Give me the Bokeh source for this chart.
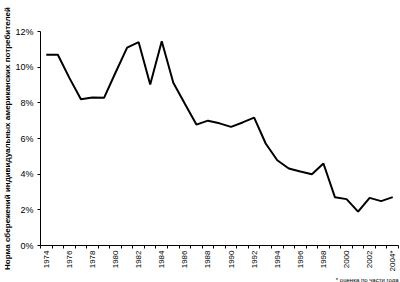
import math
from bokeh.plotting import figure
from bokeh.models import Range1d, FixedTicker, Title, ColumnDataSource
from bokeh.embed import file_html
from bokeh.resources import INLINE

years = list(range(1974, 2005))
savings_rate = [10.7, 10.7, 9.4, 8.2, 8.3, 8.28, 9.7, 11.1, 11.4, 9.03, 11.45, 9.13,
                7.95, 6.78, 7.0, 6.85, 6.65, 6.9, 7.17, 5.72, 4.78, 4.32, 4.15, 4.0,
                4.6, 2.7, 2.6, 1.9, 2.67, 2.49, 2.71]
x_tick_years = list(range(1974, 2005, 2))
x_tick_labels = {y: (str(y) + "*" if y == 2004 else str(y)) for y in x_tick_years}
y_ticks = [0, 2, 4, 6, 8, 10, 12]
y_tick_labels = {v: f"{v}%" for v in y_ticks}
y_title = "Норма сбережений индивидуальных американских потребителей"
footnote = "* оценка по части года"

FONT = "Liberation Sans"

p = figure(width=400, height=282, output_backend="svg", toolbar_location=None,
           x_range=Range1d(1973.5, 2004.5), y_range=Range1d(0, 12),
           min_border_left=33, min_border_right=2, min_border_top=31, min_border_bottom=37)
p.outline_line_color = None
p.xgrid.visible = False
p.ygrid.visible = False
p.background_fill_color = "white"
p.border_fill_color = "white"

src = ColumnDataSource(dict(x=years, y=savings_rate))
p.line("x", "y", source=src, line_color="black", line_width=2)

xa = p.xaxis[0]
xa.ticker = FixedTicker(ticks=x_tick_years,
                        minor_ticks=[y - 0.5 for y in range(1974, 2006)])
xa.major_label_overrides = x_tick_labels
xa.major_label_orientation = math.pi / 2
xa.major_label_text_font = FONT
xa.major_label_text_font_size = "8px"
xa.major_label_text_color = "black"
xa.major_tick_out = 0
xa.major_tick_in = 0
xa.minor_tick_out = 3
xa.minor_tick_in = 0
xa.minor_tick_line_color = "black"
xa.axis_line_color = "black"
xa.axis_line_width = 1
xa.major_label_standoff = 2

ya = p.yaxis[0]
ya.ticker = FixedTicker(ticks=y_ticks, minor_ticks=[])
ya.major_label_overrides = y_tick_labels
ya.major_label_text_font = FONT
ya.major_label_text_font_size = "9px"
ya.major_label_text_color = "black"
ya.major_tick_out = 3
ya.major_tick_in = 0
ya.major_tick_line_color = "black"
ya.axis_line_color = "black"
ya.axis_line_width = 1
ya.major_label_standoff = 4
ya.axis_label = y_title
ya.axis_label_text_font = FONT
ya.axis_label_text_font_size = "8px"
ya.axis_label_text_font_style = "bold"
ya.axis_label_text_color = "black"
ya.axis_label_standoff = 0

p.add_layout(Title(text=footnote, align="right", text_font=FONT,
                   text_font_size="6px", text_font_style="normal",
                   text_color="black", standoff=0, text_line_height=1.0), "below")

open("out.html", "w").write(file_html(p, INLINE))
